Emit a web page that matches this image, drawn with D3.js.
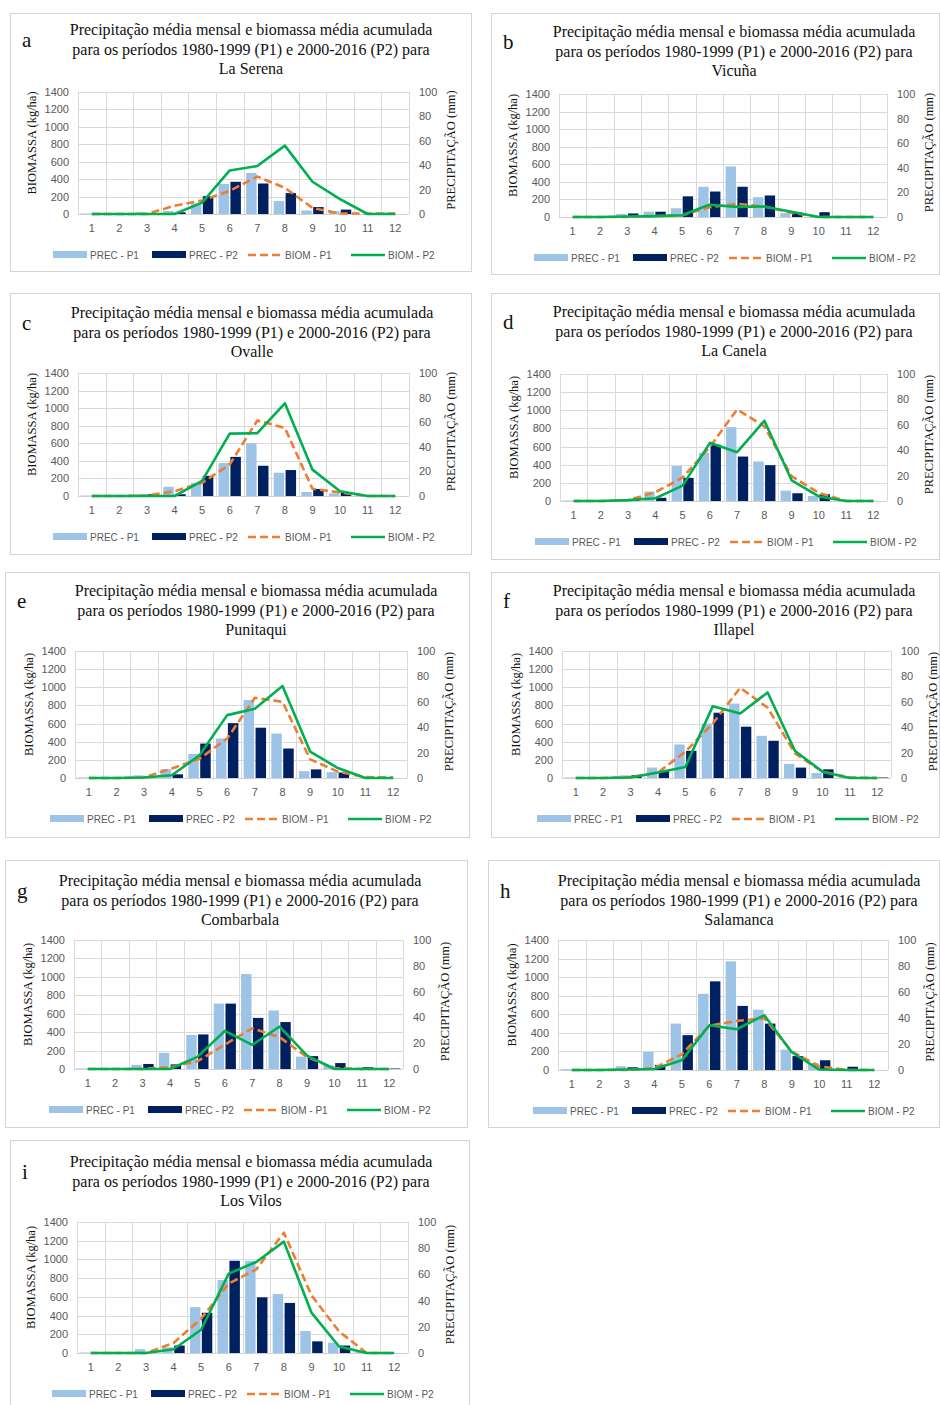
<!DOCTYPE html>
<html><head><meta charset="utf-8">
<script src="https://cdn.jsdelivr.net/npm/d3@7"></script>
<style>body{margin:0;background:#fff}svg{display:block}</style>
</head><body>
<svg id="c" width="940" height="1405"></svg>
<script>
const months = [1,2,3,4,5,6,7,8,9,10,11,12];
const biomTicks = [0,200,400,600,800,1000,1200,1400];
const precTicks = [0,20,40,60,80,100];
const legendLabels = ["PREC - P1","PREC - P2","BIOM - P1","BIOM - P2"];
const stations = ["La Serena","Vicuña","Ovalle","La Canela","Punitaqui","Illapel","Combarbala","Salamanca","Los Vilos"];

// precipitation (mm) and accumulated biomass (kg/ha)
const laSerenaPrecP1 = [0.4,0,1.4,2.5,8.6,24.6,33.6,10.7,2.9,2.5,0,0.7];
const laSerenaPrecP2 = [0,0,0.4,1.4,14.6,26.4,25.0,17.1,5.7,3.6,0,0];
const laSerenaBiomP1 = [0,0,0,95,155,265,430,300,70,5,5,5];
const laSerenaBiomP2 = [0,0,0,0,130,500,550,785,370,170,0,0];

const vicunaPrecP1 = [0,0,2.5,4.3,7.1,24.6,41.1,16.1,3.2,0,0,0.4];
const vicunaPrecP2 = [0,0,2.9,4.3,16.8,20.7,24.6,17.5,3.6,3.9,0,0];
const vicunaBiomP1 = [0,0,0,10,20,110,150,120,50,0,0,0];
const vicunaBiomP2 = [0,0,5,10,20,140,115,120,60,0,0,0];

const ovallePrecP1 = [0.4,0,1.4,7.5,10.7,26.8,42.9,18.9,3.2,2.1,0,0.4];
const ovallePrecP2 = [0,0,1.4,1.4,16.4,31.8,24.6,21.1,5.7,2.9,0,0];
const ovalleBiomP1 = [0,0,5,55,150,358,860,775,82,40,0,0];
const ovalleBiomP2 = [0,0,0,0,172,710,715,1055,300,55,0,0];

const laCanelaPrecP1 = [0.4,0,1.4,7.5,27.5,37.9,58.2,31.1,8.2,3.9,0,0.4];
const laCanelaPrecP2 = [0,0,1.4,2.5,18.2,44.3,35.0,28.2,6.1,5.4,0,0];
const laCanelaBiomP1 = [0,0,10,96,258,595,1010,822,273,90,0,0];
const laCanelaBiomP2 = [0,0,10,30,170,641,538,884,228,50,0,0];

const punitaquiPrecP1 = [0.4,0,2.1,7.1,18.9,31.1,61.4,35.0,5.4,4.6,0,0];
const punitaquiPrecP2 = [0,0,1.1,2.9,27.1,43.2,39.6,23.2,6.8,4.3,0,0];
const punitaquiBiomP1 = [0,0,5,105,212,435,884,840,206,70,10,5];
const punitaquiBiomP2 = [0,0,5,30,250,693,763,1013,291,110,0,0];

const illapelPrecP1 = [0.4,0,2.1,8.2,26.4,42.9,58.6,33.2,11.1,3.9,0.7,0.4];
const illapelPrecP2 = [0,0,2.1,5.7,21.4,51.4,40.4,29.3,8.2,6.8,0.7,0.4];
const illapelBiomP1 = [0,0,10,60,290,600,995,775,270,70,5,0];
const illapelBiomP2 = [0,0,5,60,122,792,711,943,298,70,0,0];

const combarbalaPrecP1 = [0.4,0,3.2,12.5,26.4,50.7,73.6,45.4,9.6,2.9,0.4,0.4];
const combarbalaPrecP2 = [0,0,3.9,3.6,26.8,50.7,39.6,36.4,10.0,4.6,1.4,0.4];
const combarbalaBiomP1 = [0,0,0,20,83,265,442,345,130,10,0,0];
const combarbalaBiomP2 = [0,0,0,0,131,413,261,461,145,0,0,0];

const salamancaPrecP1 = [0.7,0,2.9,13.9,35.7,58.6,83.6,46.4,15.7,5.4,0,0.4];
const salamancaPrecP2 = [0,0,2.1,3.9,26.8,68.2,49.3,35.7,10.7,7.5,2.5,0];
const salamancaBiomP1 = [0,0,0,20,169,475,529,558,200,40,0,0];
const salamancaBiomP2 = [0,0,5,10,104,482,439,590,191,5,0,0];

const losVilosPrecP1 = [0.4,0,2.9,4.3,35.0,55.7,70.4,45.0,16.8,7.9,1.4,0.4];
const losVilosPrecP2 = [0,0,0,5.7,30.7,70.4,42.5,38.2,8.9,5.7,0,0];
const losVilosBiomP1 = [0,0,0,107,367,741,894,1286,616,231,0,0];
const losVilosBiomP2 = [0,0,0,40,249,848,972,1190,431,70,0,0];

const stationData = [
  [laSerenaPrecP1, laSerenaPrecP2, laSerenaBiomP1, laSerenaBiomP2],
  [vicunaPrecP1, vicunaPrecP2, vicunaBiomP1, vicunaBiomP2],
  [ovallePrecP1, ovallePrecP2, ovalleBiomP1, ovalleBiomP2],
  [laCanelaPrecP1, laCanelaPrecP2, laCanelaBiomP1, laCanelaBiomP2],
  [punitaquiPrecP1, punitaquiPrecP2, punitaquiBiomP1, punitaquiBiomP2],
  [illapelPrecP1, illapelPrecP2, illapelBiomP1, illapelBiomP2],
  [combarbalaPrecP1, combarbalaPrecP2, combarbalaBiomP1, combarbalaBiomP2],
  [salamancaPrecP1, salamancaPrecP2, salamancaBiomP1, salamancaBiomP2],
  [losVilosPrecP1, losVilosPrecP2, losVilosBiomP1, losVilosBiomP2]
];
const letters = ["a","b","c","d","e","f","g","h","i"];

// layout (positions only)
const layout = [
  {box:[10,13,462,259], plot:[78,92,409,214], tx:251, ty:35},
  {box:[491,13,449,262], plot:[559,94,887,217], tx:734, ty:37},
  {box:[10,293,462,262], plot:[78,373,409,496], tx:252, ty:318},
  {box:[491,293,449,267], plot:[560,374,887,501], tx:734, ty:317},
  {box:[5,572,465,266], plot:[75,651,407,778], tx:256, ty:596},
  {box:[491,572,449,266], plot:[562,651,891,778], tx:734, ty:596},
  {box:[5,860,463,268], plot:[74,940,403,1069], tx:240, ty:886},
  {box:[488,860,452,268], plot:[558,940,888,1070], tx:739, ty:886},
  {box:[10,1140,460,270], plot:[77,1222,408,1353], tx:251, ty:1167}
];

const C = {p1:"#9dc3e6", p2:"#002060", b1:"#ed7d31", b2:"#00b050", grid:"#d9d9d9", tick:"#595959"};
const svg = d3.select("#c");
const tickFont = "'Liberation Sans', Arial, sans-serif";
const serif = "'Liberation Serif', 'Times New Roman', serif";

stations.forEach((name, i) => {
  const L = layout[i];
  const [pp1, pp2, bb1, bb2] = stationData[i];
  const g = svg.append("g");
  g.append("rect").attr("x", L.box[0]+0.5).attr("y", L.box[1]+0.5)
    .attr("width", L.box[2]-1).attr("height", L.box[3]-1)
    .attr("fill", "#fff").attr("stroke", "#d4d4d4");

  const [l,t,r,b] = L.plot;
  const x = d3.scaleBand().domain(months).range([l,r]).paddingInner(0).paddingOuter(0);
  const xs = d3.scaleBand().domain(["P1","P2"]).range([0, x.bandwidth()]).paddingInner(0.12).paddingOuter(0.22);
  const yB = d3.scaleLinear().domain([0,1400]).range([b,t]);
  const yP = d3.scaleLinear().domain([0,100]).range([b,t]);

  // title
  const titleLines = ["Precipitação média mensal e biomassa média acumulada",
                      "para os períodos 1980-1999 (P1) e 2000-2016 (P2) para", name];
  g.append("text").attr("x", L.tx).attr("y", L.ty).attr("text-anchor","middle")
    .attr("font-family", serif).attr("font-size", 16).attr("fill","#111")
    .selectAll("tspan").data(titleLines).join("tspan")
    .attr("x", L.tx).attr("dy", (d,k) => k ? 19.5 : 0).text(d => d);
  g.append("text").attr("x", L.box[0]+12).attr("y", L.ty+12)
    .attr("font-family", serif).attr("font-size", 21).attr("fill","#111").text(letters[i]);

  // gridlines
  g.append("g").selectAll("line").data(biomTicks).join("line")
    .attr("x1", l).attr("x2", r).attr("y1", d => Math.round(yB(d))+0.5).attr("y2", d => Math.round(yB(d))+0.5)
    .attr("stroke", C.grid).attr("stroke-width", 1);
  g.append("g").selectAll("line").data(d3.range(13)).join("line")
    .attr("x1", k => Math.round(l + k*x.step())+0.5).attr("x2", k => Math.round(l + k*x.step())+0.5)
    .attr("y1", t).attr("y2", b).attr("stroke", C.grid).attr("stroke-width", 1);

  // axes
  const axL = g.append("g").attr("transform", `translate(${l},0)`)
    .call(d3.axisLeft(yB).tickValues(biomTicks).tickSize(0).tickPadding(9).tickFormat(d3.format("d")));
  const axR = g.append("g").attr("transform", `translate(${r},0)`)
    .call(d3.axisRight(yP).tickValues(precTicks).tickSize(0).tickPadding(10).tickFormat(d3.format("d")));
  const axX = g.append("g").attr("transform", `translate(0,${b})`)
    .call(d3.axisBottom(x).tickSize(0).tickPadding(10));
  [axL, axR, axX].forEach(a => {
    a.select(".domain").remove();
    a.selectAll("text").attr("font-family", tickFont).attr("font-size", 11).attr("fill", C.tick);
  });
  g.append("line").attr("x1", l).attr("x2", r).attr("y1", Math.round(b)+0.5).attr("y2", Math.round(b)+0.5)
    .attr("stroke", "#d0d0d0");

  // bars
  const bars = g.append("g");
  bars.selectAll("rect.p1").data(pp1).join("rect").attr("class","p1")
    .attr("x", (d,k) => x(months[k]) + xs("P1")).attr("width", xs.bandwidth())
    .attr("y", d => yP(d)).attr("height", d => b - yP(d)).attr("fill", C.p1);
  bars.selectAll("rect.p2").data(pp2).join("rect").attr("class","p2")
    .attr("x", (d,k) => x(months[k]) + xs("P2")).attr("width", xs.bandwidth())
    .attr("y", d => yP(d)).attr("height", d => b - yP(d)).attr("fill", C.p2);

  // lines
  const line = d3.line().x((d,k) => x(months[k]) + x.bandwidth()/2).y(d => yB(d));
  g.append("path").datum(bb1).attr("d", line).attr("fill","none")
    .attr("stroke", C.b1).attr("stroke-width", 2.6).attr("stroke-dasharray","8,4").attr("stroke-linejoin","round");
  g.append("path").datum(bb2).attr("d", line).attr("fill","none")
    .attr("stroke", C.b2).attr("stroke-width", 2.6).attr("stroke-linejoin","round");

  // axis titles
  const cy = (t+b)/2;
  g.append("text").attr("transform", `translate(${l-42},${cy-10}) rotate(-90)`).attr("text-anchor","middle")
    .attr("font-family", serif).attr("font-size", 12.5).attr("fill","#111").text("BIOMASSA (kg/ha)");
  g.append("text").attr("transform", `translate(${r+46},${cy-3}) rotate(-90)`).attr("text-anchor","middle")
    .attr("font-family", serif).attr("font-size", 12.5).attr("fill","#111").text("PRECIPITAÇÃO (mm)");

  // legend
  const ly = b + 41;
  const offs = [-25, 74, 170, 273];
  const lg = g.append("g");
  legendLabels.forEach((lab, k) => {
    const sx = l + offs[k];
    if (k < 2) {
      lg.append("rect").attr("x", sx).attr("y", ly-4).attr("width", 34).attr("height", 7)
        .attr("fill", k === 0 ? C.p1 : C.p2);
    } else {
      lg.append("line").attr("x1", sx).attr("x2", sx+34).attr("y1", ly).attr("y2", ly)
        .attr("stroke", k === 2 ? C.b1 : C.b2).attr("stroke-width", 2.6)
        .attr("stroke-dasharray", k === 2 ? "8,4" : null);
    }
    lg.append("text").attr("x", sx+37).attr("y", ly+3.5)
      .attr("font-family", tickFont).attr("font-size", 10).attr("fill", C.tick).text(lab);
  });
});
</script>
</body></html>
